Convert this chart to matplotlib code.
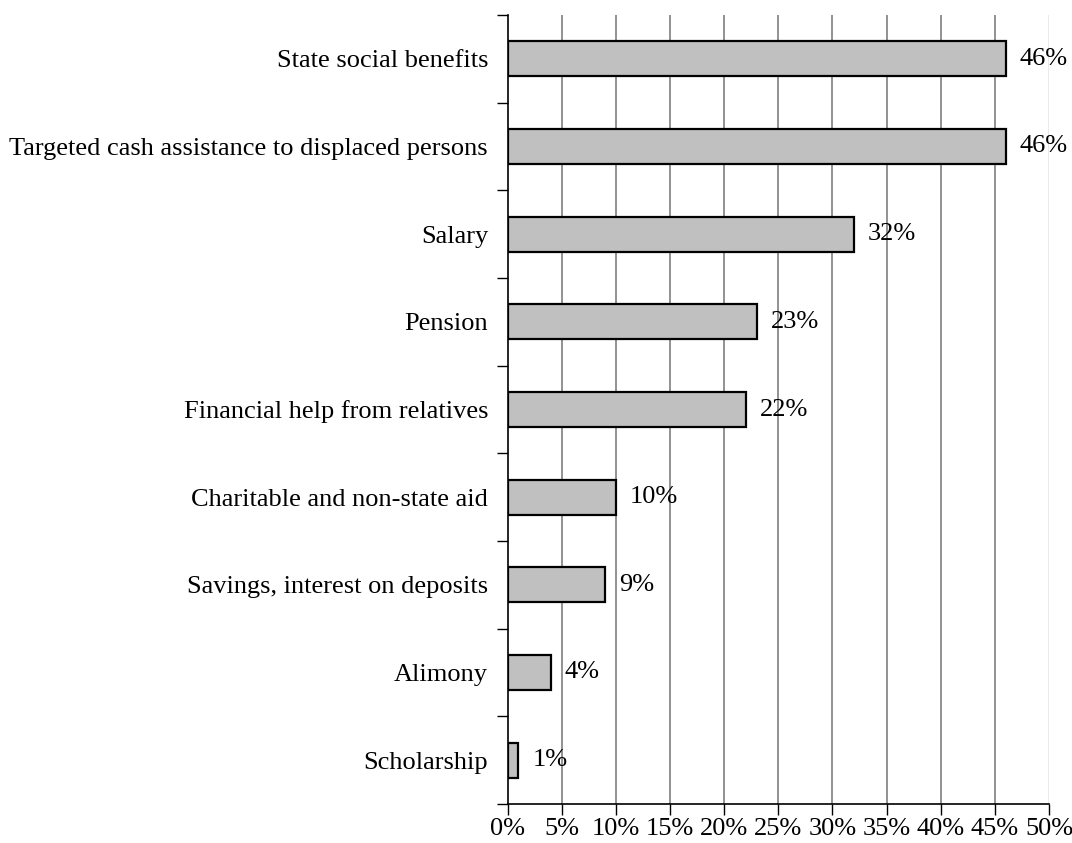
import matplotlib.pyplot as plt
import numpy as np

plt.rcParams['font.family'] = ['Liberation Serif', 'DejaVu Serif']

categories = ['State social benefits',
              'Targeted cash assistance to displaced persons',
              'Salary', 'Pension', 'Financial help from relatives',
              'Charitable and non-state aid', 'Savings, interest on deposits',
              'Alimony', 'Scholarship']
values = [46, 46, 32, 23, 22, 10, 9, 4, 1]
xticks = [0, 5, 10, 15, 20, 25, 30, 35, 40, 45, 50]

fig = plt.figure(figsize=(10.72, 8.43), dpi=100)
ax = fig.add_axes([507.5 / 1072, 1 - 804 / 843, (1049 - 507.5) / 1072, (804 - 15) / 843])

n = len(categories)
y = np.arange(n)
ax.barh(y, values, height=0.4, color='#c0c0c0', edgecolor='black', linewidth=1.6, zorder=3)

for xv in xticks[1:]:
    col = '#e6e6e6' if xv == 50 else '#7f7f7f'
    ax.axvline(xv, color=col, linewidth=1.2, zorder=1)

for yi, v in zip(y, values):
    ax.annotate(f'{v}%', (v, yi), xytext=(10, 0), textcoords='offset points',
                va='center', ha='left', fontsize=19, zorder=4)

ax.set_xlim(0, 50)
ax.set_ylim(n - 0.5, -0.5)
ax.set_xticks(xticks)
ax.set_xticklabels([f'{t}%' for t in xticks], fontsize=19)

ax.set_yticks(np.arange(n + 1) - 0.5)
ax.set_yticklabels([])
ax.set_yticks(y, minor=True)
ax.set_yticklabels(categories, minor=True, fontsize=19)
ax.tick_params(axis='y', which='minor', length=0, pad=14)
ax.tick_params(axis='y', which='major', length=8, width=1, direction='out')
ax.tick_params(axis='x', length=8, width=1, direction='out', pad=2)

for s in ['top', 'right']:
    ax.spines[s].set_visible(False)
ax.spines['left'].set_linewidth(1.2)
ax.spines['bottom'].set_linewidth(1.2)

fig.savefig('out.png', dpi=100)
